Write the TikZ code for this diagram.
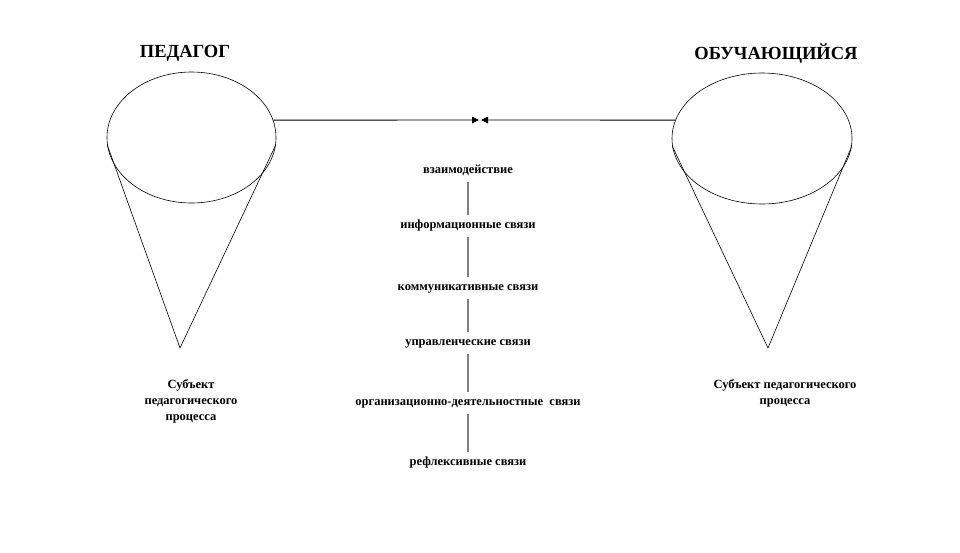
\documentclass[tikz,border=0pt]{standalone}
\usepackage{fontspec}
\setmainfont{Liberation Serif}
\usepackage{tikz}
\usetikzlibrary{arrows.meta,shapes.geometric}

\begin{document}
\begin{tikzpicture}[x=1pt,y=-1pt,
		cup/.style={draw,ellipse,line width=0.6pt,minimum width=169pt,minimum height=131pt,inner sep=0pt},
		role/.style={font=\bfseries\fontsize{18.5}{20}\selectfont},
		tie/.style={font=\bfseries\fontsize{12.5}{14}\selectfont,text height=7pt,text depth=2.5pt,inner xsep=2pt,inner ysep=6.5pt},
		subj/.style={font=\bfseries\fontsize{12.5}{16}\selectfont,align=center},
		link/.style={draw=gray,line width=1.2pt},
		arr/.style={line width=0.9pt,-{Triangle[length=7pt,width=6.5pt]}}]
				\useasboundingbox (0,0) rectangle (960,552);
				% the two sides of the relation
				\node[role] (pedt) at (185,53) {ПЕДАГОГ};
				\node[role] (obut) at (776,54) {ОБУЧАЮЩИЙСЯ};
				\node[cup] (ped) at (191.5,137.5) {};
				\node[cup,minimum width=180pt] (obu) at (762,138.5) {};
				% the cones hanging under the ellipses
				\coordinate (pedtip) at (180,348);
				\coordinate (obutip) at (768,348);
				\draw[line width=0.6pt] (ped.185) -- (pedtip) -- (ped.355);
				\draw[line width=0.6pt] (obu.185) -- (obutip) -- (obu.355);
				% the two arrows meeting in the middle
				\coordinate (meetl) at (479,120);
				\coordinate (meetr) at (481,120);
				\draw[arr] (ped.12) -- (meetl);
				\draw[arr] (obu.168) -- (meetr);
				% the chain of links
				\node[tie] (t1) at (468,171) {взаимодействие};
				\node[tie] (t2) at (468,226) {информационные связи};
				\node[tie] (t3) at (468,288) {коммуникативные связи};
				\node[tie] (t4) at (468,343) {управленческие связи};
				\node[tie] (t5) at (468,403) {организационно-деятельностные~ связи};
				\node[tie] (t6) at (468,463) {рефлексивные связи};
				\foreach \a/\b in {t1/t2,t2/t3,t3/t4,t4/t5,t5/t6}
					\draw[link] (\a.south) -- (\b.north);
				% captions under the cones
				\node[subj] (pedsub) at (191,401) {Субъект\\педагогического\\процесса};
				\node[subj] (obusub) at (785,393) {Субъект педагогического\\процесса};
			\end{tikzpicture}
\end{document}
